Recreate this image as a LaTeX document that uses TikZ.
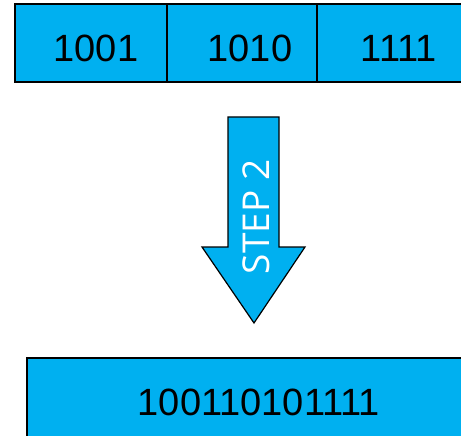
\documentclass[tikz,border=0pt]{standalone}
\usepackage{fontspec}
\newfontfamily\numfont{Liberation Sans}
\newfontfamily\stepfont{Open Sans}
\definecolor{boxblue}{HTML}{00B0F0}
\begin{document}
\begin{tikzpicture}[x=1pt,y=-1pt,
  cell/.style={draw=black,fill=boxblue,line width=1.6pt,minimum height=78pt,inner sep=0pt},
  num/.style={inner sep=0pt,font=\numfont\fontsize{38}{40}\selectfont,text=black}]
\useasboundingbox (0,0) rectangle (461,436);
\clip (0,0) rectangle (461,436);
\node[cell,minimum width=152pt] (c1) at (91,43) {};
\node[cell,minimum width=150pt] (c2) at (242,43) {};
\node[cell,minimum width=164pt] (c3) at (399,43) {};
\node[num] (t1) at (96,48) {1001};
\node[num] (t2) at (250,48) {1010};
\node[num] (t3) at (399,48) {1111};
\node[cell,minimum width=466pt,minimum height=90pt] (res) at (260,403) {};
\node[num] (tr) at (259,402) {100110101111};
\draw[fill=boxblue,line width=1.2pt,line join=miter]
  (228,117) -- (279,117) -- (279,247) -- (305,247) -- (254,323) -- (202,247) -- (228,247) -- cycle;
\node[rotate=90,text=white,font=\stepfont\fontsize{37}{40}\selectfont] (step) at (256,217) {STEP 2};
\end{tikzpicture}
\end{document}
